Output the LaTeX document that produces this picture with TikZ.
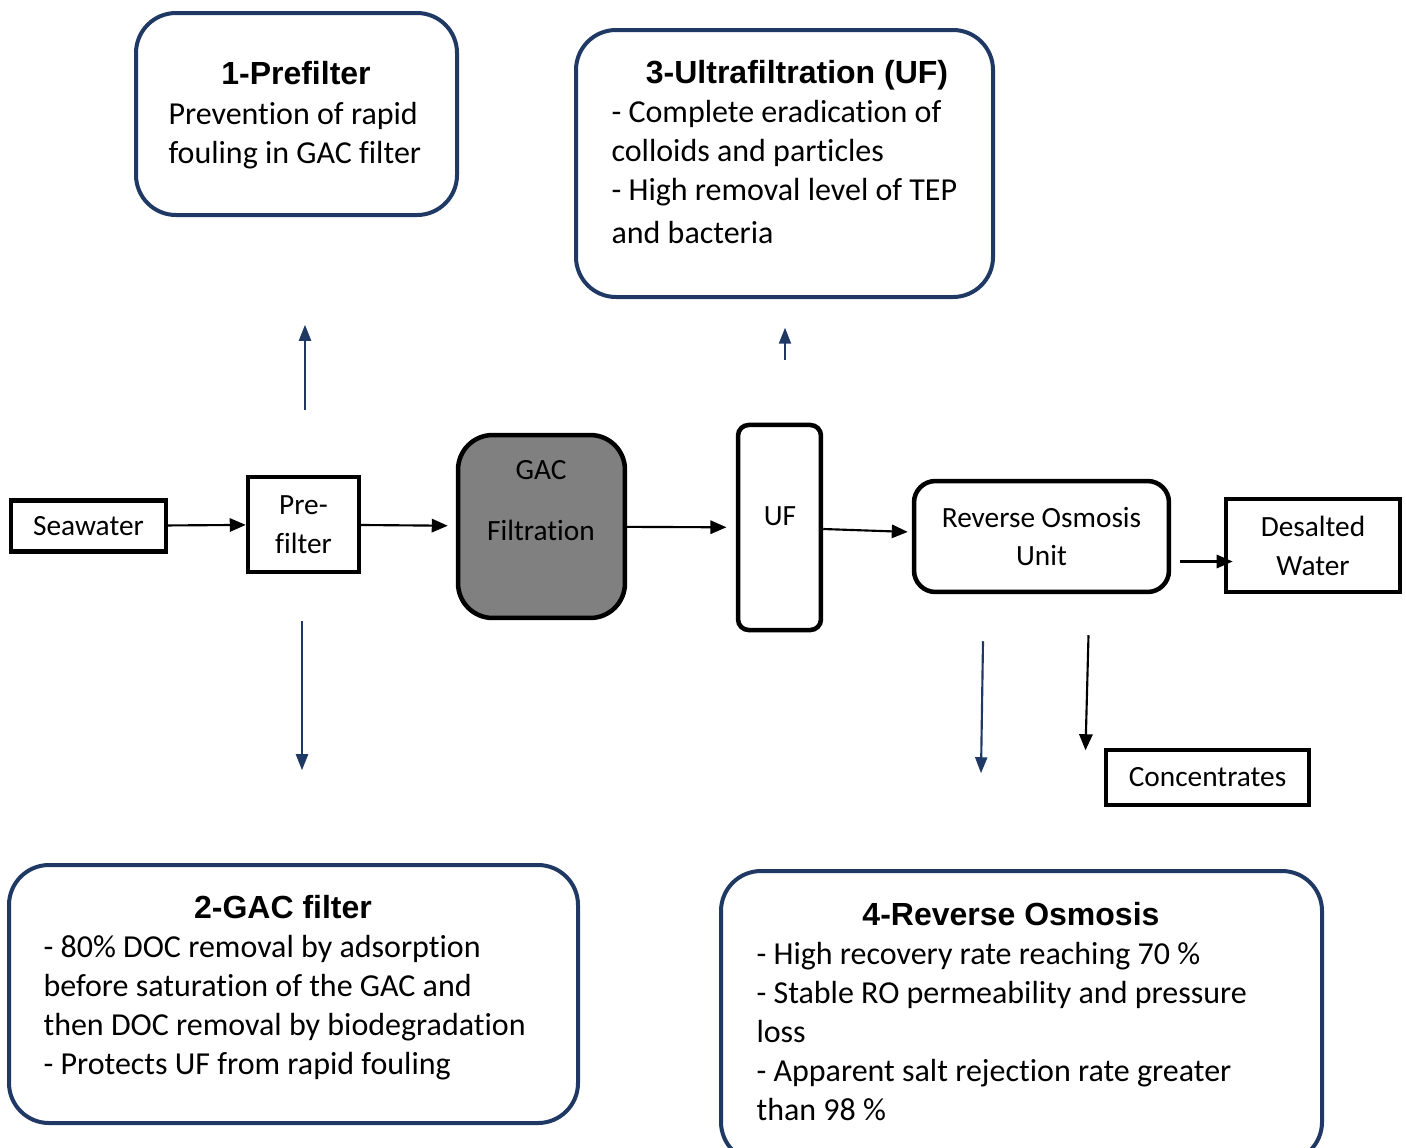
\documentclass[tikz,border=0pt]{standalone}
\usepackage{fontspec}
\setmainfont{Carlito}[Ligatures=NoCommon]
\newfontfamily\headfont{Liberation Sans}
\usetikzlibrary{positioning, arrows.meta, fit}

\definecolor{navy}{RGB}{31,56,100}
\definecolor{gacgray}{RGB}{128,128,128}

\begin{document}
\begin{tikzpicture}[
    x=0.375pt, y=-0.375pt,
    infobox/.style={draw=navy, line width=1.5pt, rounded corners=15pt, inner sep=0pt},
    flowbox/.style={draw, line width=1.7pt, inner sep=0pt, align=center,
                    font=\fontsize{11}{14.6}\selectfont},
    flowtxt/.style={inner sep=0pt, align=center, font=\fontsize{11}{14.6}\selectfont},
    ttl/.style={font=\headfont\bfseries\fontsize{12}{14.4}\selectfont, anchor=base, inner sep=0pt},
    body/.style={font=\fontsize{12}{14.6}\selectfont, align=left, anchor=north west, inner sep=0pt},
    arr/.style={-{Triangle[length=6pt, width=5pt]}, line width=0.8pt},
    barr/.style={-{Triangle[length=6pt, width=4.5pt]}, line width=0.8pt, navy}]

  \useasboundingbox (0,0) rectangle (1406,1147);
  \clip (0,0) rectangle (1406,1147);

  % === Flow line ===
  \node[flowbox, minimum width=58.1pt, minimum height=19.1pt] (sea) at (88.5,526) {Seawater};
  \node[flowbox, minimum width=41.6pt, minimum height=35.6pt] (pre) at (303.5,524.5) {Pre-\\filter};
  \node[flowbox, fill=gacgray, rounded corners=13pt, minimum width=62.6pt, minimum height=68.6pt] (gac) at (541.5,526.5) {};
  \node[flowtxt] (gactxt) at (541,501) {GAC\\[8.3pt]Filtration};
  \node[flowbox, rounded corners=4pt, minimum width=31.1pt, minimum height=76.9pt] (uf) at (779.5,527.5) {};
  \node[flowtxt] (uftxt) at (780,516) {UF};
  \node[flowbox, rounded corners=8pt, minimum width=95.6pt, minimum height=41.6pt] (ro) at (1041.5,536.5) {Reverse Osmosis\\Unit};
  \node[flowbox, minimum width=65.3pt, minimum height=34.9pt] (des) at (1313,545.5) {Desalted\\Water};
  \node[flowbox, minimum width=76.1pt, minimum height=20.6pt] (conc) at (1207.5,777.5) {Concentrates};

  % === Info boxes ===
  \node[infobox, fit={(136,13) (457,215)}] (b1) {};
  \node[ttl] (t1) at (296,84) {1-Prefilter};
  \node[body] (d1) at (168,102) {Prevention of rapid\\fouling in GAC filter};

  \node[infobox, fit={(576,30) (993,297)}] (b3) {};
  \node[ttl] (t3) at (797,83) {3-Ultrafiltration (UF)};
  \node[body] (d3) at (611,100) {- Complete eradication of\\colloids and particles\\- High removal level of TEP\\[1.5pt]and bacteria};

  \node[infobox, fit={(9,865) (578,1123)}] (b2) {};
  \node[ttl] (t2) at (283,918) {2-GAC filter};
  \node[body] (d2) at (43,935) {- 80\% DOC removal by adsorption\\before saturation of the GAC and\\then DOC removal by biodegradation\\- Protects UF from rapid fouling};

  \node[infobox, fit={(721,871) (1322,1162)}] (b4) {};
  \node[ttl] (t4) at (1011,925) {4-Reverse Osmosis};
  \node[body] (d4) at (756,942) {- High recovery rate reaching 70 \%\\- Stable RO permeability and pressure\\loss\\- Apparent salt rejection rate greater\\than 98 \%};

  % === Arrows: main flow ===
  \draw[arr] (sea) -- (pre);
  \draw[arr, shorten >=3pt] (pre) -- (gac);
  \draw[arr, shorten >=3.5pt] (gac) -- (uf);
  \draw[arr, shorten >=1.5pt] (uf) -- (ro);
  \draw[arr] ([shift={(9,25)}]ro.east) -- ([shift={(9,25)}]ro.east -| des.west);
  \draw[arr] ([shift={(47,41)}]ro.south) -- ++(-3,115);

  % Links to the info boxes
  \draw[barr] ([shift={(1.5,-65)}]pre.north) -- ++(0,-85);
  \draw[barr] ([shift={(-1.5,47)}]pre.south) -- ++(0,149);
  \draw[barr] ([shift={(5.5,-63)}]uf.north) -- ++(0,-32);
  \draw[barr] ([shift={(-58.5,47)}]ro.south) -- ++(-2,132);

\end{tikzpicture}
\end{document}
